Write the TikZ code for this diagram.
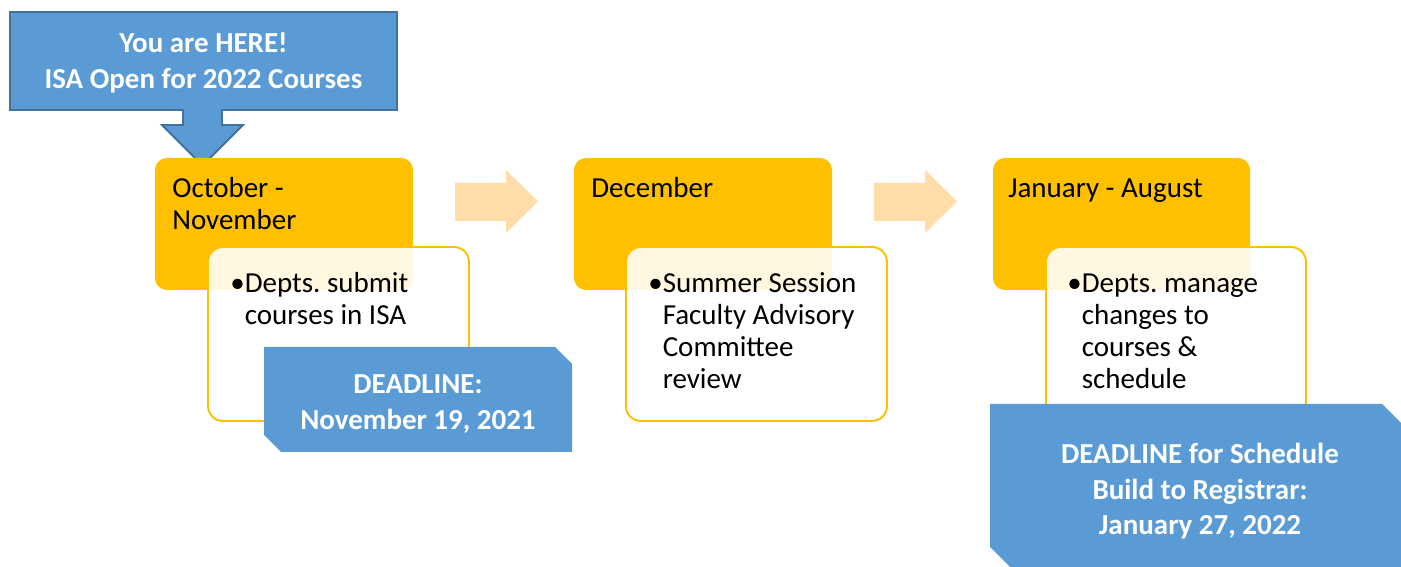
\documentclass[tikz,border=0pt]{standalone}
\usepackage{fontspec}
\setmainfont{Carlito}
\frenchspacing

\definecolor{isablue}{HTML}{5B9BD5}
\definecolor{isaedge}{HTML}{41719C}
\definecolor{isagold}{HTML}{FFC000}
\definecolor{isapale}{HTML}{FFDCA8}

\tikzset{
    monthbox/.style={fill=isagold, rounded corners=6.8pt},
    taskbox/.style={draw=isagold, line width=1.1pt, fill=white, fill opacity=0.88, rounded corners=8.5pt},
    deadline/.style={fill=isablue},
    monthtext/.style={anchor=base west, inner sep=0pt, font=\fontsize{16.5}{18.2}\selectfont},
    tasktext/.style={anchor=base west, inner sep=0pt, font=\fontsize{16.5}{18.2}\selectfont},
    bluetext/.style={anchor=base, inner sep=0pt, text=white, font=\fontsize{16.5}{20.2}\selectfont\bfseries}
}

\begin{document}
\begin{tikzpicture}[x=0.02cm, y=-0.02cm]

    \useasboundingbox (0,0) rectangle (1401,567);
    \clip (0,0) rectangle (1401,567);

    % you are here
    \draw [isaedge, line width=1.1pt, fill=isablue] (10,12) -- (397,12) -- (397,110)
        -- (222,110) -- (222,125) -- (243,125) -- (202.5,165.5) -- (162,125)
        -- (183,125) -- (183,110) -- (10,110) -- cycle;

    \fill [monthbox] (155,158) rectangle (413,290);
    \fill [monthbox] (574,158) rectangle (832,290);
    \fill [monthbox] (993,158) rectangle (1250,290);

    \draw [taskbox] (208,247) rectangle (469,421);
    \draw [taskbox] (626,247) rectangle (887,421);
    \draw [taskbox] (1046,247) rectangle (1306,421);

    \fill [isapale] (455,183) -- (506,183) -- (506,170) -- (538,201.5)
        -- (506,233) -- (506,221) -- (455,221) -- cycle;
    \fill [isapale] (874,183) -- (925,183) -- (925,170) -- (957,201.5)
        -- (925,233) -- (925,221) -- (874,221) -- cycle;

    % deadlines
    \fill [deadline] (264,347) -- (555,347) -- (572,364) -- (572,452)
        -- (281,452) -- (264,435) -- cycle;
    \fill [deadline] (990,404) -- (1382,404) -- (1402,424) -- (1402,567)
        -- (1010,567) -- (990,547) -- cycle;

    \node [bluetext] (here) at (203.5,53) {\begin{tabular}[t]{@{}c@{}}You are HERE!\\ISA Open for 2022 Courses\end{tabular}};

    \node [monthtext] (oct) at (172,198) {\begin{tabular}[t]{@{}l@{}}October -\\November\end{tabular}};
    \node [monthtext] (dec) at (591,198) {December};
    \node [monthtext] (jan) at (1008,198) {January - August};

    \node [tasktext] (submit) at (230,293) {\begin{tabular}[t]{@{}l@{}l@{}}\textbullet&Depts. submit\\&courses in ISA\end{tabular}};
    \node [tasktext] (review) at (648,293) {\begin{tabular}[t]{@{}l@{}l@{}}\textbullet&Summer Session\\&Faculty Advisory\\&Committee\\&review\end{tabular}};
    \node [tasktext] (manage) at (1067,293) {\begin{tabular}[t]{@{}l@{}l@{}}\textbullet&Depts. manage\\&changes to\\&courses \&\\&schedule\end{tabular}};

    \node [bluetext] (due) at (418,394) {\begin{tabular}[t]{@{}c@{}}DEADLINE:\\November 19, 2021\end{tabular}};
    \node [bluetext] (build) at (1200,464) {\begin{tabular}[t]{@{}c@{}}DEADLINE for Schedule\\Build to Registrar:\\January 27, 2022\end{tabular}};

\end{tikzpicture}
\end{document}
